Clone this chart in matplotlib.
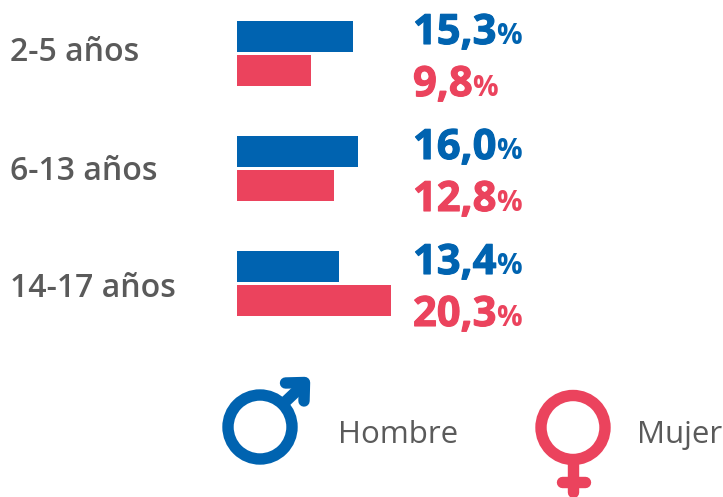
import matplotlib
matplotlib.use("Agg")
import matplotlib.pyplot as plt
import matplotlib.patheffects as pe
from matplotlib.patches import Circle
from matplotlib.lines import Line2D

categories = ["2-5 años", "6-13 años", "14-17 años"]
hombre = [15.3, 16.0, 13.4]
mujer = [9.8, 12.8, 20.3]
hombre_lbl = ["15,3", "16,0", "13,4"]
mujer_lbl = ["9,8", "12,8", "20,3"]
legend_labels = ["Hombre", "Mujer"]

BLUE = "#0063B0"
RED = "#EB435D"
GREY = "#5A5A5A"
W, H = 723, 497
plt.rcParams["font.family"] = ["Open Sans", "DejaVu Sans"]

fig = plt.figure(figsize=(W / 100, H / 100), dpi=100)
ov = fig.add_axes([0, 0, 1, 1])
ov.set_xlim(0, W); ov.set_ylim(H, 0); ov.axis("off")

# bar axes: x data units -> 7.58 px per percent, y -> 115 px per group
ax = fig.add_axes([0, 0, 1, 1], facecolor="none")
PX = 7.58
ax.set_xlim(-237 / PX, (W - 237) / PX)
ax.set_ylim((H - 53.5) / 115, -53.5 / 115)
ax.axis("off")
hgt = 31 / 115
off = 17 / 115
ypos = list(range(len(categories)))
ax.barh([y - off for y in ypos], hombre, height=hgt, color=BLUE, linewidth=0)
ax.barh([y + off for y in ypos], mujer, height=hgt, color=RED, linewidth=0)

fig.canvas.draw()
r = fig.canvas.get_renderer()
def value(px, py, s, c):
    t = ov.text(px, py, s, color=c, fontsize=30, fontweight="bold", va="baseline", ha="left",
                path_effects=[pe.withStroke(linewidth=0.8, foreground=c)])
    e = t.get_window_extent(r)
    ov.text(px + e.width - 0.5, py, "%", color=c, fontsize=20.5, fontweight="bold", va="baseline", ha="left")

lab_y = [61, 180, 297]
for i, c in enumerate(categories):
    ov.text(10, lab_y[i], c, color=GREY, fontsize=23, fontweight="semibold", va="baseline", ha="left")
    value(413, 44 + 115 * i, hombre_lbl[i], BLUE)
    value(413, 96 + 115 * i, mujer_lbl[i], RED)

LW = 8.2
# male symbol
ov.add_patch(Circle((260, 427), 32, fill=False, ec=BLUE, lw=LW))
ov.add_line(Line2D([284, 303], [403, 385], color=BLUE, lw=LW, solid_capstyle="butt"))
ov.add_line(Line2D([285.5, 304.5, 304], [383, 382.5, 401], color=BLUE, lw=LW,
                   solid_capstyle="round", solid_joinstyle="round"))
# female symbol
ov.add_patch(Circle((573, 427.5), 32, fill=False, ec=RED, lw=LW))
ov.add_line(Line2D([573, 573], [464, 492], color=RED, lw=LW, solid_capstyle="round"))
ov.add_line(Line2D([561.5, 584.5], [481.5, 481.5], color=RED, lw=LW, solid_capstyle="round"))

ov.text(338, 443, legend_labels[0], color=GREY, fontsize=22.5, va="baseline")
ov.text(637, 443, legend_labels[1], color=GREY, fontsize=22.5, va="baseline")

fig.savefig("out.png", dpi=100, facecolor="white")
